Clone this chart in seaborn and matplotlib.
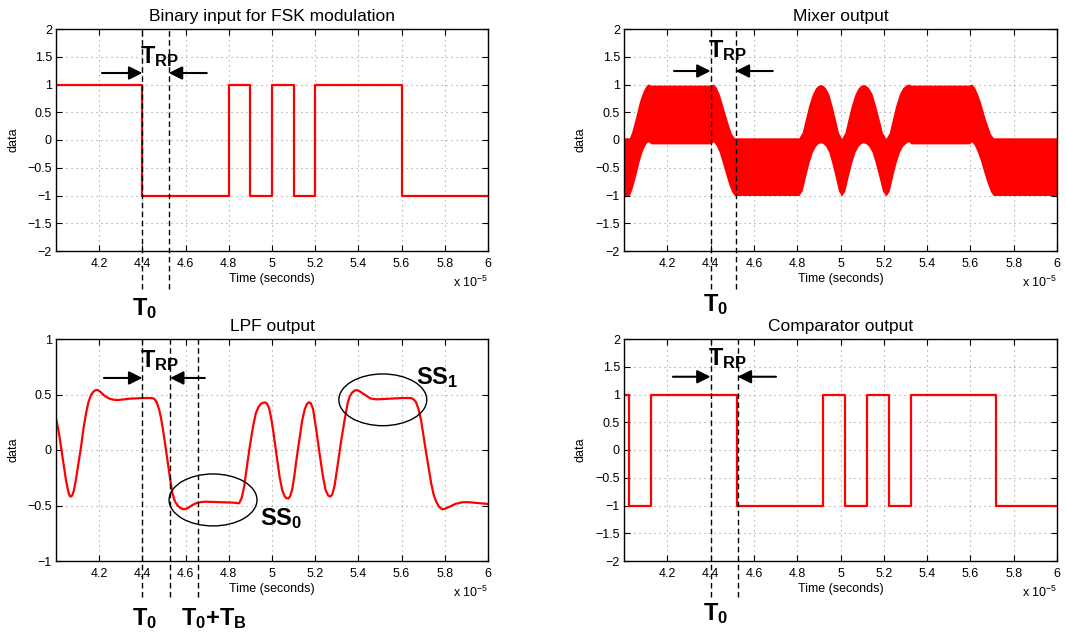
import numpy as np
import pandas as pd
import seaborn as sns
import matplotlib
matplotlib.use("Agg")
import matplotlib.pyplot as plt
from matplotlib.patches import Ellipse

# ---------------- data (time in units of 1e-5 s) ----------------
titles = ["Binary input for FSK modulation", "Mixer output", "LPF output", "Comparator output"]

bin_edges = [4.0, 4.4, 4.8, 4.9, 5.0, 5.1, 5.2, 5.6, 6.0]
bin_levels = [1, -1, 1, -1, 1, -1, 1, -1]

cmp_edges = [4.0, 4.025, 4.125, 4.522, 4.92, 5.022, 5.124, 5.225, 5.324, 5.72, 6.0]
cmp_levels = [1, -1, 1, -1, 1, -1, 1, -1, 1, -1]

mix_t = [4.000, 4.025, 4.035, 4.046, 4.058, 4.069, 4.080, 4.092, 4.102, 4.111, 4.125,
         4.400, 4.413, 4.426, 4.439, 4.450, 4.462, 4.474, 4.485, 4.497, 4.510,
         4.808, 4.823, 4.838, 4.853, 4.870, 4.885, 4.897, 4.908, 4.919, 4.931, 4.946, 4.961, 4.976, 4.991, 5.005,
         5.020, 5.035, 5.050, 5.067, 5.082, 5.094, 5.105, 5.117, 5.130, 5.146, 5.162, 5.178, 5.194, 5.210,
         5.225, 5.240, 5.255, 5.272, 5.287, 5.300, 5.313, 5.327,
         5.595, 5.606, 5.619, 5.632, 5.645, 5.657, 5.669, 5.681, 5.693, 5.706, 6.000]
mix_upper = [0.04, 0.04, 0.14, 0.30, 0.48, 0.66, 0.80, 0.91, 0.98, 1.01, 0.99,
             0.99, 1.01, 0.95, 0.84, 0.70, 0.54, 0.38, 0.24, 0.11, 0.04,
             0.04, 0.14, 0.38, 0.62, 0.83, 0.94, 0.985, 1.00, 0.985, 0.94, 0.83, 0.62, 0.38, 0.13, 0.03,
             0.13, 0.38, 0.62, 0.83, 0.94, 0.985, 1.00, 0.985, 0.94, 0.83, 0.62, 0.38, 0.13, 0.03,
             0.13, 0.38, 0.62, 0.83, 0.94, 0.985, 1.01, 0.99,
             0.99, 1.01, 0.95, 0.84, 0.70, 0.54, 0.38, 0.24, 0.11, 0.04, 0.04]
mix_lower = [-1.00, -1.00, -0.90, -0.76, -0.58, -0.40, -0.25, -0.13, -0.06, -0.03, -0.07,
             -0.07, -0.03, -0.10, -0.21, -0.35, -0.51, -0.67, -0.81, -0.93, -1.00,
             -1.00, -0.91, -0.67, -0.43, -0.22, -0.11, -0.065, -0.05, -0.065, -0.11, -0.22, -0.43, -0.67, -0.92, -1.01,
             -0.92, -0.67, -0.43, -0.22, -0.11, -0.065, -0.05, -0.065, -0.11, -0.22, -0.43, -0.67, -0.92, -1.01,
             -0.92, -0.67, -0.43, -0.22, -0.11, -0.065, -0.03, -0.07,
             -0.07, -0.03, -0.10, -0.21, -0.35, -0.51, -0.67, -0.81, -0.93, -1.00, -1.00]

lpf_t = [4.000, 4.008, 4.015, 4.023, 4.031, 4.039, 4.046, 4.053, 4.059, 4.064, 4.069, 4.075, 4.082,
         4.092, 4.104, 4.116, 4.127, 4.139, 4.150, 4.162, 4.175, 4.186, 4.193, 4.205, 4.218, 4.231,
         4.250, 4.270, 4.285, 4.310, 4.339, 4.400, 4.440, 4.455, 4.466, 4.478, 4.486, 4.493, 4.501,
         4.509, 4.517, 4.524, 4.532, 4.539, 4.550, 4.563, 4.578, 4.593, 4.609, 4.624, 4.640, 4.655,
         4.675, 4.694, 4.730, 4.771, 4.820, 4.848, 4.860, 4.871, 4.878, 4.886, 4.894, 4.902, 4.913,
         4.925, 4.938, 4.950, 4.960, 4.968, 4.976, 4.986, 4.995, 5.005, 5.020, 5.035, 5.047, 5.058,
         5.067, 5.075, 5.083, 5.093, 5.103, 5.113, 5.127, 5.140, 5.152, 5.162, 5.171, 5.180, 5.190,
         5.205, 5.220, 5.236, 5.248, 5.260, 5.270, 5.279, 5.290, 5.305, 5.320, 5.336, 5.350, 5.359,
         5.370, 5.382, 5.393, 5.405, 5.420, 5.436, 5.455, 5.482, 5.520, 5.559, 5.600, 5.644, 5.656,
         5.667, 5.678, 5.690, 5.702, 5.714, 5.726, 5.737, 5.748, 5.760, 5.773, 5.788, 5.800, 5.815,
         5.829, 5.850, 5.883, 5.915, 5.945, 5.975, 6.000]
lpf_v = [0.285, 0.21, 0.135, 0.03, -0.075, -0.18, -0.27, -0.34, -0.39, -0.415, -0.42, -0.41, -0.37,
         -0.27, -0.12, 0.03, 0.19, 0.33, 0.43, 0.495, 0.53, 0.54, 0.54, 0.525, 0.50, 0.48,
         0.46, 0.452, 0.45, 0.455, 0.462, 0.468, 0.468, 0.462, 0.43, 0.36, 0.29, 0.21, 0.11,
         0.0, -0.11, -0.21, -0.31, -0.39, -0.46, -0.50, -0.525, -0.535, -0.525, -0.505, -0.487, -0.475,
         -0.468, -0.466, -0.468, -0.47, -0.474, -0.48, -0.43, -0.33, -0.23, -0.12, -0.01, 0.09, 0.22,
         0.33, 0.39, 0.418, 0.426, 0.428, 0.42, 0.38, 0.30, 0.18, -0.03, -0.24, -0.36, -0.415,
         -0.435, -0.437, -0.42, -0.36, -0.24, -0.09, 0.10, 0.27, 0.37, 0.415, 0.43, 0.42, 0.37,
         0.18, -0.03, -0.24, -0.36, -0.41, -0.42, -0.40, -0.32, -0.12, 0.08, 0.27, 0.42, 0.48,
         0.515, 0.535, 0.54, 0.53, 0.51, 0.49, 0.465, 0.456, 0.460, 0.465, 0.468, 0.468, 0.455,
         0.43, 0.37, 0.27, 0.12, -0.03, -0.17, -0.30, -0.40, -0.465, -0.51, -0.535, -0.53, -0.517,
         -0.505, -0.485, -0.47, -0.471, -0.476, -0.481, -0.486]

xtick_vals = [4.2, 4.4, 4.6, 4.8, 5.0, 5.2, 5.4, 5.6, 5.8, 6.0]
xtick_labels = ["4.2", "4.4", "4.6", "4.8", "5", "5.2", "5.4", "5.6", "5.8", "6"]
ytick_vals_wide = [-2, -1.5, -1, -0.5, 0, 0.5, 1, 1.5, 2]
ytick_labels_wide = ["\u22122", "\u22121.5", "\u22121", "\u22120.5", "0", "0.5", "1", "1.5", "2"]
ytick_vals_lpf = [-1, -0.5, 0, 0.5, 1]
ytick_labels_lpf = ["\u22121", "\u22120.5", "0", "0.5", "1"]

t0 = 4.4
t_rp = [4.522, 4.516, 4.528, 4.525]   # second dashed line per panel
t0_tb = 4.658

# ---------------- style ----------------
sns.set_theme(style="white")
plt.rcParams["font.family"] = ["Liberation Sans", "DejaVu Sans"]
plt.rcParams["mathtext.fontset"] = "custom"
plt.rcParams["mathtext.rm"] = "Liberation Sans"
plt.rcParams["mathtext.it"] = "Liberation Sans:italic"
plt.rcParams["mathtext.bf"] = "Liberation Sans:bold"
for k in ["text.color", "axes.labelcolor", "xtick.color", "ytick.color", "axes.edgecolor"]:
    plt.rcParams[k] = "black"

RED = "#ff0000"
fig = plt.figure(figsize=(10.66, 6.35), dpi=100)
W, H = 1066, 635

def make_ax(l, t, r, b):
    return fig.add_axes([l / W, 1 - b / H, (r - l) / W, (b - t) / H])

ax_bin = make_ax(56, 29, 488, 251)
ax_mix = make_ax(624, 29, 1057, 251)
ax_lpf = make_ax(56, 339, 488, 561)
ax_cmp = make_ax(624, 339, 1057, 561)

def style(ax, title, yvals, ylabels, ylim):
    ax.set_xlim(4.0, 6.0)
    ax.set_ylim(*ylim)
    ax.set_xticks(xtick_vals)
    ax.set_xticklabels(xtick_labels)
    ax.set_yticks(yvals)
    ax.set_yticklabels(ylabels)
    ax.tick_params(axis="both", which="both", direction="in", length=4, width=0.8,
                   top=True, right=True, bottom=True, left=True, labelsize=9, colors="black", pad=5)
    ax.tick_params(axis="y", pad=3)
    ax.grid(True, color="#999999", linestyle=(0, (1, 3.5)), linewidth=0.8)
    for s in ax.spines.values():
        s.set_visible(True)
        s.set_color("black")
        s.set_linewidth(1.0)
    ax.set_title(title, fontsize=12.5, pad=6, color="black")
    ax.set_xlabel("Time (seconds)", fontsize=9, labelpad=2)
    ax.set_ylabel("data", fontsize=9, labelpad=6)
    ax.text(1.0, -0.161, r"x 10$^{-5}$", transform=ax.transAxes, ha="right", va="baseline", fontsize=9)

# binary input
sns.lineplot(x=bin_edges, y=bin_levels + [bin_levels[-1]], ax=ax_bin, color=RED, lw=1.6,
             drawstyle="steps-post", estimator=None, sort=False)
# mixer output (envelope of the fast oscillation)
ax_mix.fill_between(mix_t, mix_lower, mix_upper, color=RED, lw=0, zorder=2)
# LPF output
sns.lineplot(x=lpf_t, y=lpf_v, ax=ax_lpf, color=RED, lw=1.6, estimator=None, sort=False)
# comparator
sns.lineplot(x=cmp_edges, y=cmp_levels + [cmp_levels[-1]], ax=ax_cmp, color=RED, lw=1.6,
             drawstyle="steps-post", estimator=None, sort=False)

style(ax_bin, titles[0], ytick_vals_wide, ytick_labels_wide, (-2, 2))
style(ax_mix, titles[1], ytick_vals_wide, ytick_labels_wide, (-2, 2))
style(ax_lpf, titles[2], ytick_vals_lpf, ytick_labels_lpf, (-1, 1))
style(ax_cmp, titles[3], ytick_vals_wide, ytick_labels_wide, (-2, 2))

# ---------------- annotations ----------------
DASH = (0, (4, 2.5))
def dashed(ax, x, ymin):
    ax.axvline(x, ymin=ymin, ymax=1, color="black", lw=1.0, ls=DASH, clip_on=False, zorder=5)

def arrows(ax, y, tail_l, tail_r, head_r):
    kw = dict(arrowstyle="-|>", color="black", lw=1.5, mutation_scale=20, shrinkA=0, shrinkB=0)
    ax.annotate("", xy=(t0, y), xytext=(tail_l, y), arrowprops=kw, zorder=6)
    ax.annotate("", xy=(head_r, y), xytext=(tail_r, y), arrowprops=kw, zorder=6)

BIG = 17
lab_T0 = r"$\mathbf{T}_{\mathbf{0}}$"
lab_TRP = r"$\mathbf{T}_{\mathbf{RP}}$"

# top-left
dashed(ax_bin, t0, -0.171); dashed(ax_bin, t_rp[0], -0.171)
arrows(ax_bin, 1.207, 4.213, 4.698, t_rp[0])
ax_bin.text(4.388, 1.387, lab_TRP, fontsize=BIG, ha="left", va="baseline", zorder=7)
ax_bin.text(4.35, -3.153, lab_T0, fontsize=BIG, ha="left", va="baseline", clip_on=False)

# top-right
dashed(ax_mix, t0, -0.171); dashed(ax_mix, t_rp[1], -0.171)
arrows(ax_mix, 1.243, 4.231, 4.687, t_rp[1])
ax_mix.text(4.389, 1.495, lab_TRP, fontsize=BIG, ha="left", va="baseline", zorder=7)
ax_mix.text(4.363, -3.09, lab_T0, fontsize=BIG, ha="left", va="baseline", clip_on=False)

# bottom-left
dashed(ax_lpf, t0, -0.162); dashed(ax_lpf, t_rp[2], -0.162); dashed(ax_lpf, t0_tb, -0.162)
arrows(ax_lpf, 0.649, 4.222, 4.689, t_rp[2])
ax_lpf.text(4.388, 0.75, lab_TRP, fontsize=BIG, ha="left", va="baseline", zorder=7)
ax_lpf.text(4.354, -1.577, lab_T0, fontsize=BIG, ha="left", va="baseline", clip_on=False)
ax_lpf.text(4.578, -1.577, r"$\mathbf{T}_{\mathbf{0}}\mathbf{+T}_{\mathbf{B}}$", fontsize=BIG,
            ha="left", va="baseline", clip_on=False)
ax_lpf.add_patch(Ellipse((4.727, -0.45), 0.407, 0.468, fill=False, ec="black", lw=1.0, zorder=6))
ax_lpf.add_patch(Ellipse((5.513, 0.452), 0.407, 0.466, fill=False, ec="black", lw=1.0, zorder=6))
ax_lpf.text(4.943, -0.676, r"$\mathbf{SS}_{\mathbf{0}}$", fontsize=BIG, ha="left", va="baseline")
ax_lpf.text(5.668, 0.595, r"$\mathbf{SS}_{\mathbf{1}}$", fontsize=BIG, ha="left", va="baseline",
            clip_on=False)

# bottom-right
dashed(ax_cmp, t0, -0.162); dashed(ax_cmp, t_rp[3], -0.162)
arrows(ax_cmp, 1.32, 4.226, 4.702, t_rp[3])
ax_cmp.text(4.389, 1.53, lab_TRP, fontsize=BIG, ha="left", va="baseline", zorder=7)
ax_cmp.text(4.363, -3.06, lab_T0, fontsize=BIG, ha="left", va="baseline", clip_on=False)

fig.savefig("out.png", dpi=100)
